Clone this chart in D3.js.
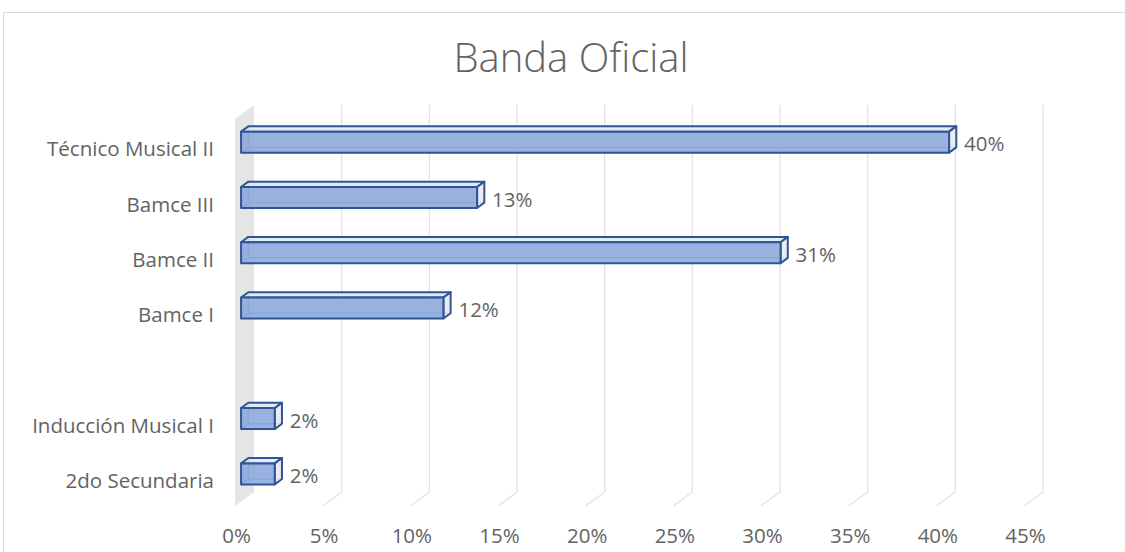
<!DOCTYPE html>
<html>
<head>
<meta charset="utf-8">
<script src="https://cdn.jsdelivr.net/npm/d3@7"></script>
<style>
  body { margin: 0; background: #fff; }
  text { font-family: "Open Sans", "Liberation Sans", sans-serif; fill: #636363; }
</style>
</head>
<body>
<div id="chart"></div>
<script>
// categories top to bottom (the blank one is an empty category in the sheet)
const categories = ["Técnico Musical II", "Bamce III", "Bamce II", "Bamce I", "", "Inducción Musical I", "2do Secundaria"];
const values = [0.4038, 0.1346, 0.3077, 0.1154, null, 0.0192, 0.0192];
const ticks = [0, 0.05, 0.10, 0.15, 0.20, 0.25, 0.30, 0.35, 0.40, 0.45];

const WIDTH = 1125;
const HEIGHT = 552;

// oblique depth: back plane -> front edge of the floor
const depth = { dx: -19, dy: 14 };
const tBack = 0.3, tFront = 0.68;
const barH = 21;

const svg = d3.select("#chart").append("svg")
    .attr("width", WIDTH)
    .attr("height", HEIGHT);

svg.append("rect")
    .attr("x", 3.5).attr("y", 12.5)
    .attr("width", WIDTH + 10).attr("height", HEIGHT + 10)
    .attr("fill", "#fff")
    .attr("stroke", "#d9d9d9");

svg.append("text")
    .attr("x", 571).attr("y", 72)
    .attr("text-anchor", "middle")
    .style("font-size", "40px")
    .style("font-weight", 300)
    .text("Banda Oficial");

const x = d3.scaleLinear().domain([0, 0.45]).range([254, 1043]);
const y = d3.scaleBand().domain(categories).range([105, 492]);
const yTop = y.range()[0], yBottom = y.range()[1];

// side wall
svg.append("polygon")
    .attr("points", [
        [x(0), yTop], [x(0), yBottom],
        [x(0) + depth.dx, yBottom + depth.dy], [x(0) + depth.dx, yTop + depth.dy]
    ].join(" "))
    .attr("fill", "#e5e5e5");

// gridlines on back wall + floor
const grid = svg.append("g")
    .attr("stroke", "#e2e2e2")
    .attr("stroke-width", 1.3)
    .attr("fill", "none");

grid.selectAll("path")
    .data(ticks.filter(t => t > 0))
    .enter().append("path")
    .attr("d", t => "M" + x(t) + "," + yTop + "V" + yBottom +
        "l" + depth.dx + "," + depth.dy);

// tick labels at the front edge of the floor
svg.append("g").selectAll("text")
    .data(ticks)
    .enter().append("text")
    .attr("x", t => x(t) + depth.dx + 1.5)
    .attr("y", 543)
    .attr("text-anchor", "middle")
    .style("font-size", "20.5px")
    .text(d3.format(".0%"));

// category labels
svg.append("g").selectAll("text")
    .data(categories)
    .enter().append("text")
    .attr("x", x(0) + depth.dx - 21)
    .attr("y", c => y(c) + y.bandwidth() / 2 + depth.dy + 2.5)
    .attr("dy", "0.35em")
    .attr("text-anchor", "end")
    .style("font-size", "20.5px")
    .text(c => c);

// bars
const rows = categories.map((c, i) => ({ key: c, value: values[i] }))
    .filter(d => d.value != null);

const bars = svg.append("g").selectAll("g")
    .data(rows)
    .enter().append("g")
    .attr("stroke", "#2f5597")
    .attr("stroke-linejoin", "round");

function face(d) {
    const cy = y(d.key) + y.bandwidth() / 2;
    const bx = depth.dx * tBack, by = depth.dy * tBack;
    const fx = depth.dx * tFront, fy = depth.dy * tFront;
    const fy0 = cy + fy - barH / 2;
    return {
        x0: x(0) + fx, x1: x(d.value) + fx, y0: fy0, y1: fy0 + barH,
        ox: bx - fx, oy: by - fy
    };
}

// hidden edges seen through the box
bars.append("path")
    .attr("fill", "none")
    .attr("stroke-width", 1.3)
    .attr("stroke-opacity", 0.75)
    .attr("d", d => {
        const f = face(d);
        return "M" + (f.x0 + f.ox) + "," + (f.y0 + f.oy) +
            "V" + (f.y1 + f.oy) + "H" + (f.x1 + f.ox) +
            "M" + (f.x0 + f.ox) + "," + (f.y1 + f.oy) + "L" + f.x0 + "," + f.y1;
    });

// top face
bars.append("path")
    .attr("fill", "#e1e7f1")
    .attr("fill-opacity", 0.85)
    .attr("stroke-width", 2)
    .attr("d", d => {
        const f = face(d);
        return "M" + f.x0 + "," + f.y0 + "l" + f.ox + "," + f.oy +
            "H" + (f.x1 + f.ox) + "L" + f.x1 + "," + f.y0 + "Z";
    });

// end face
bars.append("path")
    .attr("fill", "#e6e9ee")
    .attr("fill-opacity", 0.85)
    .attr("stroke-width", 2)
    .attr("d", d => {
        const f = face(d);
        return "M" + f.x1 + "," + f.y0 + "l" + f.ox + "," + f.oy +
            "v" + barH + "L" + f.x1 + "," + f.y1 + "Z";
    });

// front face
bars.append("rect")
    .attr("fill", "#8faadc")
    .attr("fill-opacity", 0.9)
    .attr("stroke-width", 2)
    .attr("x", d => face(d).x0)
    .attr("y", d => face(d).y0)
    .attr("width", d => face(d).x1 - face(d).x0)
    .attr("height", barH);

// data labels
svg.append("g").selectAll("text")
    .data(rows)
    .enter().append("text")
    .attr("x", d => face(d).x1 + 15)
    .attr("y", d => face(d).y0 + barH / 2 + 2)
    .attr("dy", "0.35em")
    .style("font-size", "20.5px")
    .text(d => d3.format(".0%")(d.value));
</script>
</body>
</html>
